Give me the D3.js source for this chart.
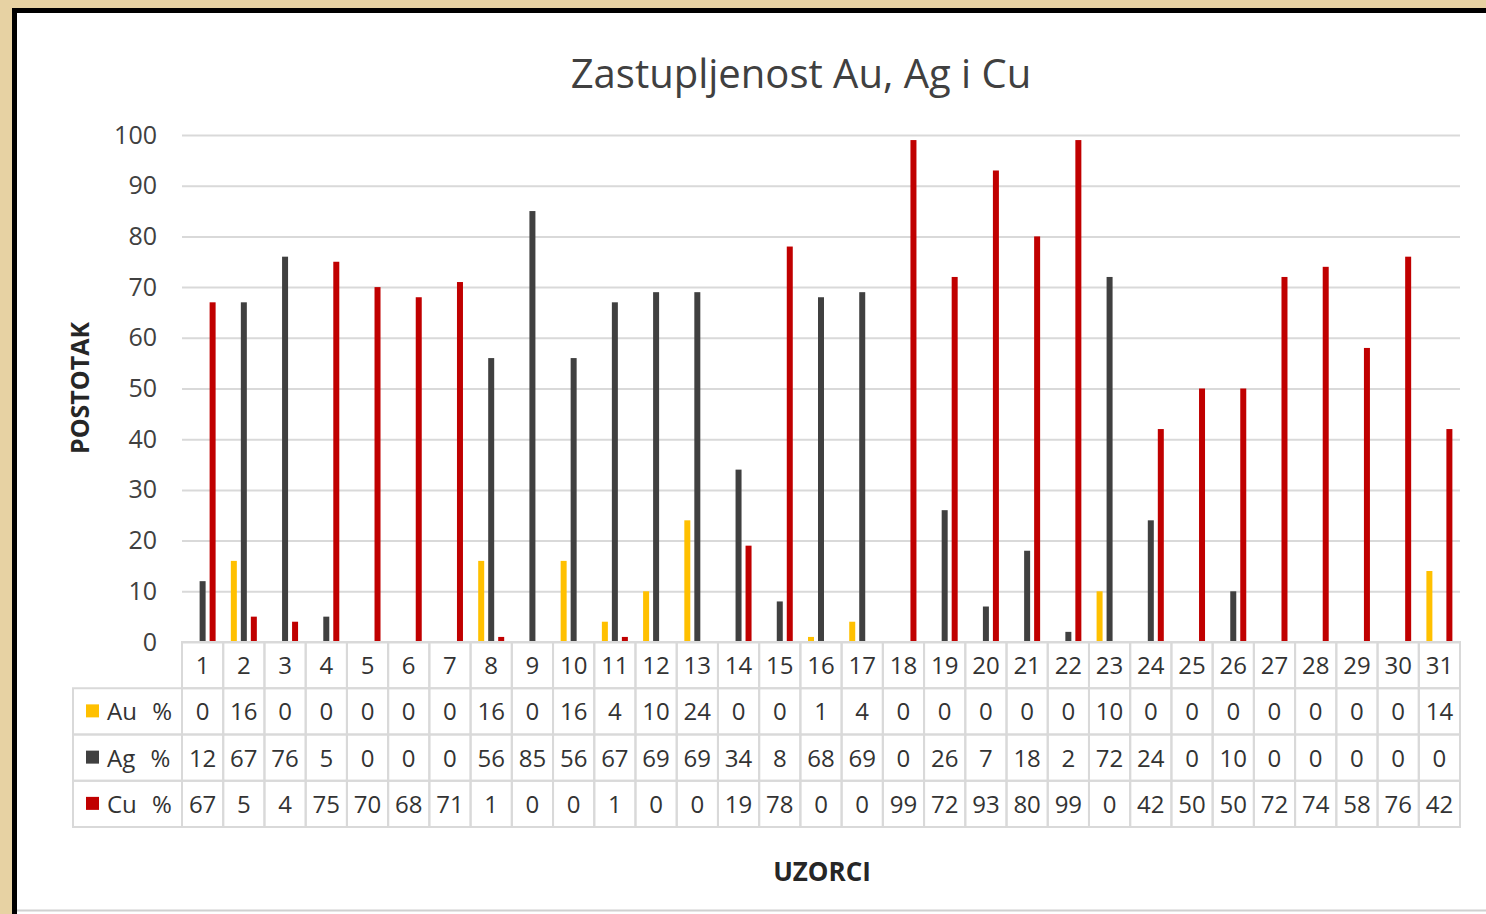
<!DOCTYPE html>
<meta charset="utf-8">
<script src="https://cdnjs.cloudflare.com/ajax/libs/d3/7.8.5/d3.min.js"></script>
<style>
  body { margin: 0; background: #e7d2a3; }
  svg { display: block; }
  text { font-family: "Open Sans", "DejaVu Sans", sans-serif; }
</style>
<div id="my_dataviz"></div>
<script>

// sample numbers
var samples = d3.range(1, 32).map(String);

// series values, percent
var auValues = [0,16,0,0,0,0,0,16,0,16,4,10,24,0,0,1,4,0,0,0,0,0,10,0,0,0,0,0,0,0,14];
var agValues = [12,67,76,5,0,0,0,56,85,56,67,69,69,34,8,68,69,0,26,7,18,2,72,24,0,10,0,0,0,0,0];
var cuValues = [67,5,4,75,70,68,71,1,0,0,1,0,0,19,78,0,0,99,72,93,80,99,0,42,50,50,72,74,58,76,42];

var seriesNames = ["Au %", "Ag %", "Cu %"];
var seriesColors = ["#ffc000", "#404040", "#c00000"];
var yTicks = [0,10,20,30,40,50,60,70,80,90,100];

var series = [auValues, agValues, cuValues].map(function(vals, i) {
  return { name: seriesNames[i], color: seriesColors[i], values: vals };
});

var W = 1486, H = 914;
var plotLeft = 182, plotRight = 1460, plotTop = 135, plotBottom = 642;
var legendLeft = 73, tableBottom = 827;

var svg = d3.select("#my_dataviz").append("svg")
    .attr("width", W)
    .attr("height", H);

// frame: black border + white chart area
svg.append("rect")
    .attr("x", 12).attr("y", 8)
    .attr("width", W - 12).attr("height", H - 8)
    .attr("fill", "#000");
svg.append("rect")
    .attr("x", 17).attr("y", 13)
    .attr("width", W - 17).attr("height", H - 13)
    .attr("fill", "#fff");
svg.append("line")
    .attr("x1", 17).attr("x2", W)
    .attr("y1", 910.5).attr("y2", 910.5)
    .attr("stroke", "#d0d0d0").attr("stroke-width", 2);

// scales
var x = d3.scaleBand().domain(samples).range([plotLeft, plotRight]);
var y = d3.scaleLinear().domain([0, 100]).range([plotBottom, plotTop]);
var xSub = d3.scaleBand().domain(seriesNames)
    .range([x.bandwidth() / 2 - 15, x.bandwidth() / 2 + 15])
    .paddingInner(0.4).paddingOuter(0.2);

// title
svg.append("text")
    .attr("x", 801).attr("y", 88)
    .attr("text-anchor", "middle")
    .attr("font-size", 40)
    .attr("fill", "#404040")
    .text("Zastupljenost Au, Ag i Cu");

// y axis with gridlines
var yAxis = svg.append("g")
    .attr("transform", "translate(" + plotLeft + ",0)")
    .call(d3.axisLeft(y).tickValues(yTicks)
      .tickSize(-(plotRight - plotLeft)).tickPadding(25));
yAxis.select(".domain").remove();
yAxis.selectAll(".tick line").attr("stroke", "#d9d9d9").attr("stroke-width", 2);
yAxis.selectAll(".tick text")
    .attr("font-size", 25)
    .attr("fill", "#404040")
    .style("font-family", "'Open Sans', sans-serif");

// axis titles
svg.append("text")
    .attr("transform", "translate(89,388) rotate(-90)")
    .attr("text-anchor", "middle")
    .attr("font-size", 25)
    .attr("font-weight", "bold")
    .attr("fill", "#262626")
    .text("POSTOTAK");

svg.append("text")
    .attr("x", 822).attr("y", 881)
    .attr("text-anchor", "middle")
    .attr("font-size", 26)
    .attr("font-weight", "bold")
    .attr("fill", "#262626")
    .text("UZORCI");

// bars
var groups = svg.selectAll(".series")
    .data(series)
  .enter().append("g")
    .attr("class", "series")
    .attr("fill", function(d) { return d.color; });

groups.selectAll("rect")
    .data(function(d) { return d.values.map(function(v, i) { return { name: d.name, sample: samples[i], value: v }; }); })
  .enter().append("rect")
    .filter(function(d) { return d.value > 0; })
    .attr("x", function(d) { return x(d.sample) + xSub(d.name); })
    .attr("width", xSub.bandwidth())
    .attr("y", function(d) { return y(d.value); })
    .attr("height", function(d) { return y(0) - y(d.value); });

// data table
var rows = d3.scaleBand().domain(["cat"].concat(seriesNames)).range([plotBottom, tableBottom]);
var table = svg.append("g").attr("class", "table");
var cellStroke = "#d9d9d9";
var cellFont = 24;

// header row cells (sample numbers)
table.selectAll(".hcell")
    .data(samples)
  .enter().append("rect")
    .attr("x", function(d) { return x(d); })
    .attr("y", rows("cat"))
    .attr("width", x.bandwidth())
    .attr("height", rows.bandwidth())
    .attr("fill", "none")
    .attr("stroke", cellStroke).attr("stroke-width", 2);

table.selectAll(".htext")
    .data(samples)
  .enter().append("text")
    .attr("x", function(d) { return x(d) + x.bandwidth() / 2; })
    .attr("y", rows("cat") + rows.bandwidth() / 2 + 9)
    .attr("text-anchor", "middle")
    .attr("font-size", cellFont)
    .attr("fill", "#333")
    .text(function(d) { return d; });

// series rows
var srow = table.selectAll(".srow")
    .data(series)
  .enter().append("g")
    .attr("class", "srow");

srow.append("rect")
    .attr("x", legendLeft)
    .attr("y", function(d) { return rows(d.name); })
    .attr("width", plotLeft - legendLeft)
    .attr("height", rows.bandwidth())
    .attr("fill", "none")
    .attr("stroke", cellStroke).attr("stroke-width", 2);

srow.append("rect")
    .attr("x", 86)
    .attr("y", function(d) { return rows(d.name) + rows.bandwidth() / 2 - 7; })
    .attr("width", 13).attr("height", 13)
    .attr("fill", function(d) { return d.color; });

srow.append("text")
    .attr("x", 107)
    .attr("y", function(d) { return rows(d.name) + rows.bandwidth() / 2 + 9; })
    .attr("font-size", cellFont)
    .attr("fill", "#333")
    .attr("word-spacing", 9)
    .text(function(d) { return d.name; });

srow.selectAll(".cell")
    .data(function(d) { return d.values.map(function(v, i) { return { name: d.name, sample: samples[i], value: v }; }); })
  .enter().append("rect")
    .attr("x", function(d) { return x(d.sample); })
    .attr("y", function(d) { return rows(d.name); })
    .attr("width", x.bandwidth())
    .attr("height", rows.bandwidth())
    .attr("fill", "none")
    .attr("stroke", cellStroke).attr("stroke-width", 2);

srow.selectAll(".val")
    .data(function(d) { return d.values.map(function(v, i) { return { name: d.name, sample: samples[i], value: v }; }); })
  .enter().append("text")
    .attr("x", function(d) { return x(d.sample) + x.bandwidth() / 2; })
    .attr("y", function(d) { return rows(d.name) + rows.bandwidth() / 2 + 9; })
    .attr("text-anchor", "middle")
    .attr("font-size", cellFont)
    .attr("fill", "#333")
    .text(function(d) { return d.value; });

</script>
